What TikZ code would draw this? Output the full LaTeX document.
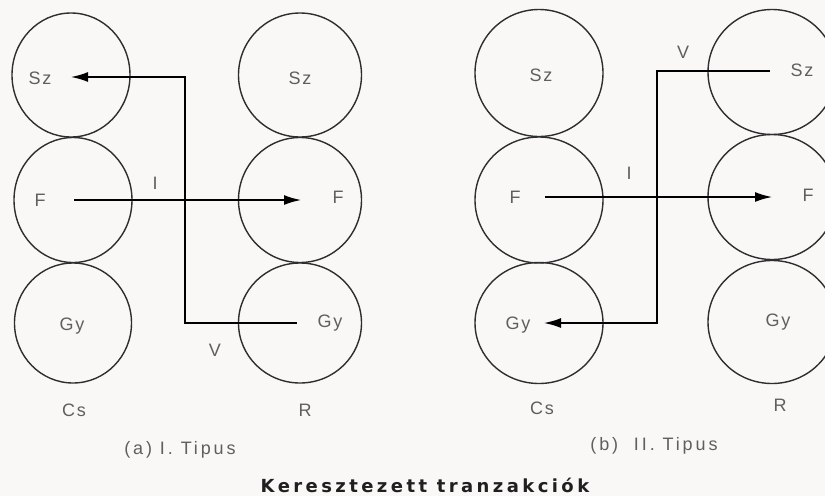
\documentclass[tikz,border=0pt]{standalone}
\usepackage{fontspec}
\setmainfont{Liberation Sans}
\newfontfamily\lblfont{Liberation Sans}[LetterSpace=10]
\newfontfamily\capfont{Liberation Sans}[LetterSpace=16]
\newfontfamily\ttlfont{DejaVu Sans}[LetterSpace=19]
\usetikzlibrary{arrows.meta,shapes.geometric}
\definecolor{bgcol}{RGB}{250,248,247}
\definecolor{txtcol}{RGB}{95,95,95}
\begin{document}
\begin{tikzpicture}[x=1pt,y=-1pt,
  ring/.style={draw=black!82, line width=1.4pt, ellipse, inner sep=0pt},
  lbl/.style={font=\lblfont\fontsize{18}{18}\selectfont, text=txtcol, inner sep=0pt},
  capt/.style={font=\capfont\fontsize{18}{18}\selectfont, text=txtcol, inner sep=0pt},
  ttl/.style={font=\ttlfont\bfseries\fontsize{18}{18}\selectfont, text=black!88, inner sep=0pt},
  flow/.style={draw=black, line width=2.7pt},
  flowarr/.style={flow, -{Latex[length=18pt,width=10pt]}}]
\clip (0,0) rectangle (825,496);
\fill[bgcol] (0,0) rectangle (825,496);
% ---------- (a) ----------
\node[ring, minimum width=118pt, minimum height=124pt] (aC1) at (71,75) {};
\node[ring, minimum width=118pt, minimum height=125pt] (aC2) at (73,200) {};
\node[ring, minimum width=117pt, minimum height=120pt] (aC3) at (73,323) {};
\node[ring, minimum width=123pt, minimum height=124pt] (aR1) at (300,75) {};
\node[ring, minimum width=123pt, minimum height=125pt] (aR2) at (300,200) {};
\node[ring, minimum width=123pt, minimum height=120pt] (aR3) at (300,323) {};
\node[lbl] (aSzL) at (40,78) {Sz};
\node[lbl] (aFL) at (40,200) {F};
\node[lbl] (aGyL) at (72,326) {Gy};
\node[lbl] (aSzR) at (300,78) {Sz};
\node[lbl] (aFR) at (338,197) {F};
\node[lbl] (aGyR) at (330,323) {Gy};
\node[lbl] (aCs) at (74,410) {Cs};
\node[lbl] (aRl) at (305,410) {R};
\node[lbl] (aI) at (155,183) {I};
\node[lbl] (aV) at (215,350) {V};
\node[capt] (aCap) at (180,450) {(a) I. Tipus};
\coordinate (aVs) at (297,323);
\coordinate (aVk) at (185,200);
\coordinate (aVe) at (70,77);
\coordinate (aFs) at (74,200);
\coordinate (aFe) at (302,200);
\draw[flowarr] (aVs) -| (aVk) |- (aVe);
\draw[flowarr] (aFs) -- (aFe);
% ---------- (b) ----------
\node[ring, minimum width=128pt, minimum height=127pt] (bC1) at (539,73) {};
\node[ring, minimum width=128pt, minimum height=126pt] (bC2) at (539,200) {};
\node[ring, minimum width=128pt, minimum height=121pt] (bC3) at (539,323) {};
\node[ring, minimum width=128pt, minimum height=125pt] (bR1) at (772,72) {};
\node[ring, minimum width=128pt, minimum height=125pt] (bR2) at (772,197) {};
\node[ring, minimum width=128pt, minimum height=123pt] (bR3) at (772,322) {};
\node[lbl] (bSzL) at (541,75) {Sz};
\node[lbl] (bFL) at (515,197) {F};
\node[lbl] (bGyL) at (518,325) {Gy};
\node[lbl] (bSzR) at (802,70) {Sz};
\node[lbl] (bFR) at (808,195) {F};
\node[lbl] (bGyR) at (778,322) {Gy};
\node[lbl] (bCs) at (542,408) {Cs};
\node[lbl] (bRl) at (780,405) {R};
\node[lbl] (bI) at (629,173) {I};
\node[lbl] (bV) at (683,52) {V};
\node[capt] (bCap) at (654,446) {(b)\ \ II. Tipus};
\coordinate (bVs) at (770,71);
\coordinate (bVk) at (657,200);
\coordinate (bVe) at (543,323);
\coordinate (bFs) at (545,197);
\coordinate (bFe) at (773,197);
\draw[flowarr] (bVs) -| (bVk) |- (bVe);
\draw[flowarr] (bFs) -- (bFe);
% ---------- title ----------
\node[ttl] (title) at (425,485) {Keresztezett tranzakciók};
\end{tikzpicture}
\end{document}
